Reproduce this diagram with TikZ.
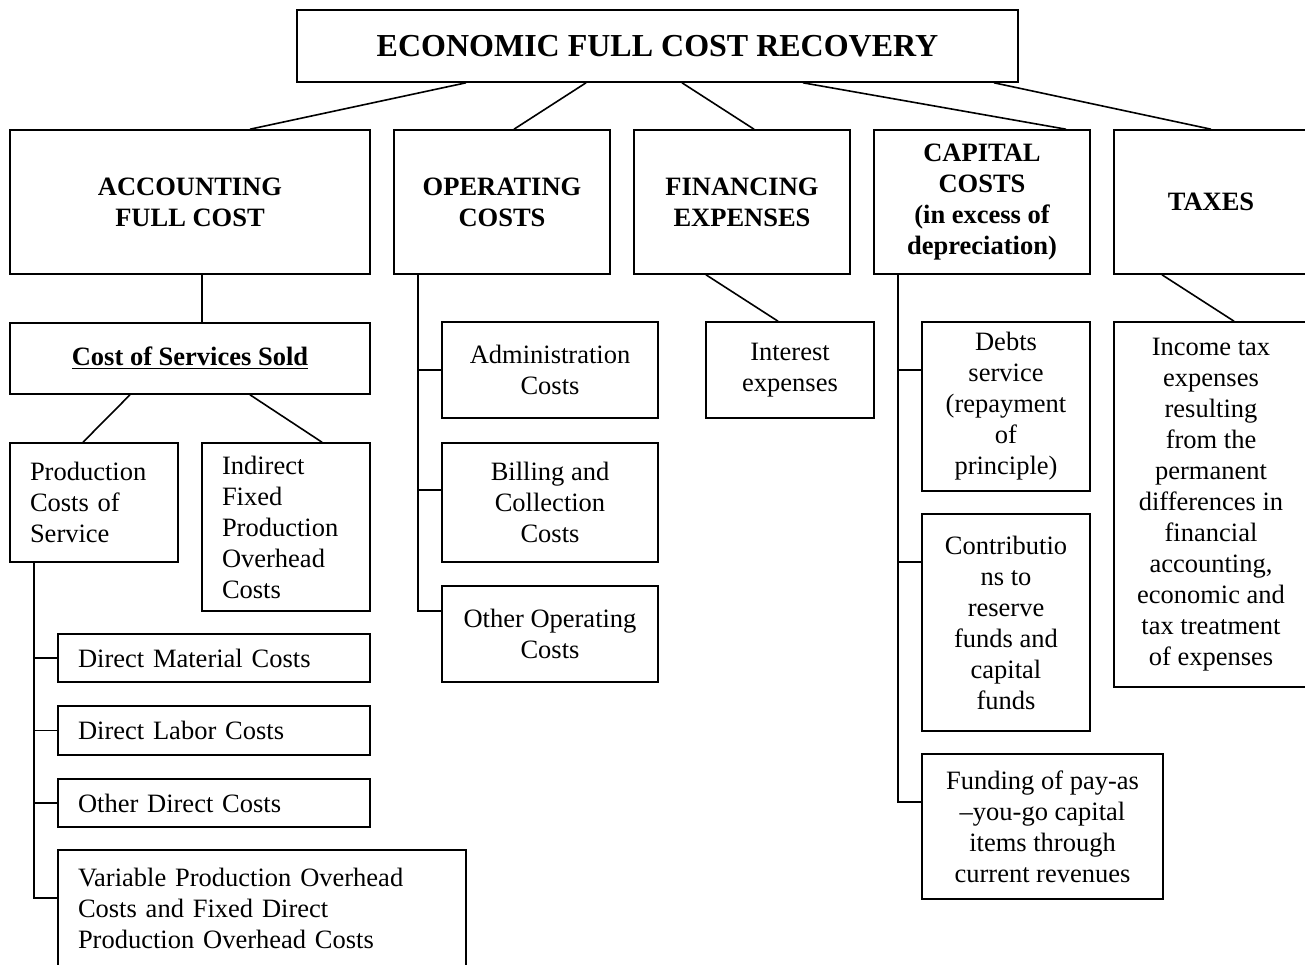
\documentclass[tikz,border=0pt]{standalone}
\usepackage{fontspec}
\setmainfont{Liberation Serif}
\newlength{\pxu}
\setlength{\pxu}{0.5pt}

\begin{document}
\begin{tikzpicture}[
    x=0.5pt, y=-0.5pt,
    box/.style={draw=black, line width=0.8pt, inner sep=0pt, align=center, font=\fontsize{13.25pt}{15.5pt}\selectfont},
    head/.style={box, font=\fontsize{13.25pt}{15.5pt}\selectfont\bfseries},
    lbox/.style={draw=black, line width=0.8pt, inner xsep=20\pxu, inner ysep=0pt, align=left, font=\fontsize{13.25pt}{15.5pt}\selectfont},
    link/.style={line width=0.8pt, color=black}
  ]
  \clip (0,0) rectangle (1305,964);

  % TOP
  \node[head, font=\fontsize{16pt}{19pt}\selectfont\bfseries, minimum width=721\pxu, minimum height=72\pxu] (econ) at (657.5,46) {ECONOMIC FULL COST RECOVERY};

  % FIRST ROW
  \node[head, minimum width=360\pxu, minimum height=144\pxu] (acc) at (190,202) {ACCOUNTING\\FULL COST};
  \node[head, minimum width=216\pxu, minimum height=144\pxu] (oper) at (502,202) {OPERATING\\COSTS};
  \node[head, minimum width=216\pxu, minimum height=144\pxu] (fin) at (742,202) {FINANCING\\EXPENSES};
  \node[head, minimum width=216\pxu, minimum height=144\pxu] (capc) at (982,202) {CAPITAL\\COSTS\\(in excess of\\depreciation)};
  \node[head, minimum width=194\pxu, minimum height=144\pxu] (tax) at (1211,202) {TAXES};

  \draw[link] ([xshift=-191.5\pxu]econ.south) -- ([xshift=60\pxu]acc.north);
  \draw[link] ([xshift=-71.5\pxu]econ.south) -- ([xshift=12\pxu]oper.north);
  \draw[link] ([xshift=24.5\pxu]econ.south) -- ([xshift=12\pxu]fin.north);
  \draw[link] ([xshift=145.5\pxu]econ.south) -- ([xshift=84\pxu]capc.north);
  \draw[link] ([xshift=336.5\pxu]econ.south) -- (tax.north);

  % ACCOUNTING FULL COST
  \node[head, minimum width=360\pxu, minimum height=71\pxu] (css) at (190,358.5) {\underline{Cost of Services Sold}};
  \node[lbox, text width=128\pxu, minimum height=119\pxu] (prod) at (94,502.5) {Production\\Costs of\\Service};
  \node[lbox, text width=128\pxu, minimum height=168\pxu] (indir) at (286,527) {Indirect\\Fixed\\Production\\Overhead\\Costs};
  \node[lbox, text width=272\pxu, minimum height=48\pxu] (dmat) at (214,658) {Direct Material Costs};
  \node[lbox, text width=272\pxu, minimum height=49\pxu] (dlab) at (214,730.5) {Direct Labor Costs};
  \node[lbox, text width=272\pxu, minimum height=48\pxu] (odir) at (214,803) {Other Direct Costs};
  \node[lbox, text width=368\pxu, minimum height=116\pxu] (varo) at (262,908) {Variable Production Overhead\\Costs and Fixed Direct\\Production Overhead Costs};

  \draw[link] ([xshift=12\pxu]acc.south) -- ([xshift=12\pxu]css.north);
  \draw[link] ([xshift=-60\pxu]css.south) -- ([xshift=-11\pxu]prod.north);
  \draw[link] ([xshift=60\pxu]css.south) -- ([xshift=36\pxu]indir.north);
  \coordinate (ptrunk) at ([xshift=-60\pxu]prod.south);
  \draw[link] (ptrunk) |- ([yshift=10\pxu]varo.west);
  \foreach \n in {dmat,dlab,odir}
    \draw[link] (ptrunk |- \n.west) -- (\n.west);

  % OPERATING COSTS
  \node[box, minimum width=216\pxu, minimum height=96\pxu] (admin) at (550,370) {Administration\\Costs};
  \node[box, minimum width=216\pxu, minimum height=119\pxu] (bill) at (550,502.5) {Billing and\\Collection\\Costs};
  \node[box, minimum width=216\pxu, minimum height=96\pxu] (oop) at (550,634) {Other Operating\\Costs};

  \coordinate (otrunk) at ([xshift=-84\pxu]oper.south);
  \coordinate (billin) at ([yshift=12.5\pxu]bill.west);
  \draw[link] (otrunk) |- ([yshift=23\pxu]oop.west);
  \draw[link] (otrunk |- admin.west) -- (admin.west);
  \draw[link] (otrunk |- billin) -- (billin);

  % FINANCING EXPENSES
  \node[box, minimum width=168\pxu, minimum height=96\pxu] (intr) at (790,370) {Interest\\expenses};
  \draw[link] ([xshift=-36\pxu]fin.south) -- ([xshift=-12\pxu]intr.north);

  % CAPITAL COSTS
  \node[box, minimum width=168\pxu, minimum height=169\pxu] (debt) at (1006,406.5) {Debts\\service\\(repayment\\of\\principle)};
  \node[box, minimum width=168\pxu, minimum height=217\pxu] (contr) at (1006,622.5) {Contributio\\ns to\\reserve\\funds and\\capital\\funds};
  \node[box, minimum width=241\pxu, minimum height=145\pxu] (fund) at (1042.5,826.5) {Funding of pay-as\\--you-go capital\\items through\\current revenues};

  \coordinate (ctrunk) at ([xshift=-84\pxu]capc.south);
  \coordinate (debtin) at ([yshift=36.5\pxu]debt.west);
  \coordinate (contrin) at ([yshift=60.5\pxu]contr.west);
  \draw[link] (ctrunk) |- ([yshift=24.5\pxu]fund.west);
  \draw[link] (ctrunk |- debtin) -- (debtin);
  \draw[link] (ctrunk |- contrin) -- (contrin);

  % TAXES
  \node[box, minimum width=194\pxu, minimum height=365\pxu] (inc) at (1211,504.5) {Income tax\\expenses\\resulting\\from the\\permanent\\differences in\\financial\\accounting,\\economic and\\tax treatment\\of expenses};
  \draw[link] ([xshift=-49\pxu]tax.south) -- ([xshift=23\pxu]inc.north);
\end{tikzpicture}
\end{document}
